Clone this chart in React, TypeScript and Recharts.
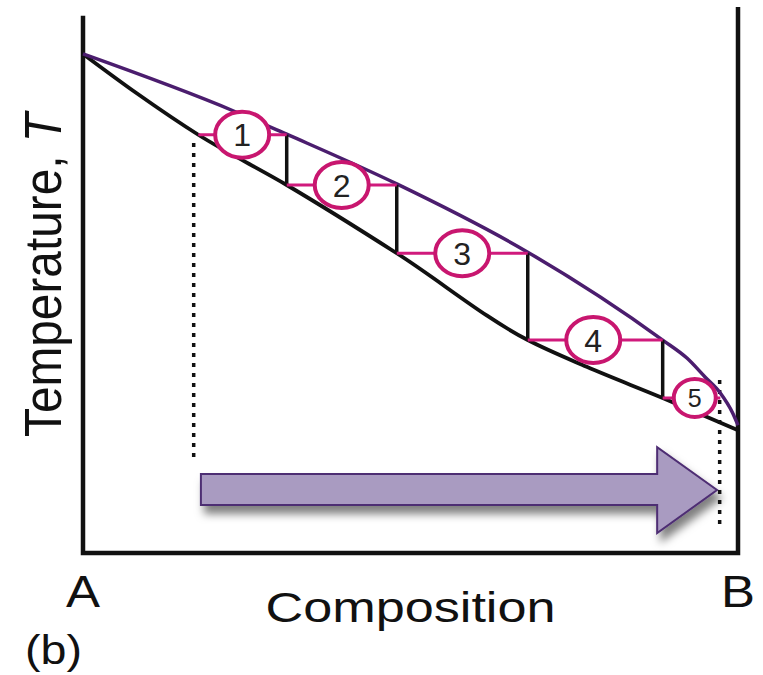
import { ComposedChart, Line, Scatter, XAxis, YAxis, ReferenceArea } from 'recharts';

// composition of B (0 = pure A, 1 = pure B), temperature in arbitrary units
const vaporX = [0, 0.229, 0.311, 0.479, 0.679, 0.885, 0.922, 0.95, 0.973, 0.992, 1];
const vaporT = [91.4, 81.0, 76.7, 67.6, 55.1, 39.0, 35.7, 32.2, 29.3, 25.6, 23.4];
const liquidX = [0, 0.082, 0.176, 0.311, 0.479, 0.679, 0.769, 0.885, 1];
const liquidT = [91.4, 84.2, 76.6, 67.4, 54.9, 39.0, 34.1, 28.4, 22.5];

// distillation steps (tie lines)
const stepT = [76.6, 67.4, 54.9, 39.0, 28.4];
const stepLiquidX = [0.176, 0.311, 0.479, 0.679, 0.885];
const stepVaporX = [0.311, 0.479, 0.679, 0.885, 0.973];
const stepLabelX = [0.243, 0.395, 0.579, 0.779, 0.934];
const stepLabels = ['1', '2', '3', '4', '5'];

// dotted guides: feed and final product
const guideX = [0.169, 0.972];
const guideTopT = [75.1, 31.7];
const guideBottomT = [16.7, 4.2];

// arrow box
const arrowX = [0.18, 0.968];
const arrowT = [3.66, 19.4];

const endTicks = [0, 1];
const endNames = ['A', 'B'];
const frameTop = [98.4, 100];

const FONT = '"Liberation Sans", Arial, Helvetica, sans-serif';

const vapor = vaporX.map((x, i) => ({ x, T: vaporT[i] }));
const liquid = liquidX.map((x, i) => ({ x, T: liquidT[i] }));
const frame = [
  { x: 0, T: frameTop[0] },
  { x: 0, T: 0 },
  { x: 1, T: 0 },
  { x: 1, T: frameTop[1] },
];
const tieLines = stepT.map((T, i) => [
  { x: stepLiquidX[i], T },
  { x: stepVaporX[i], T },
]);
const risers = stepT.slice(0, -1).map((T, i) => [
  { x: stepVaporX[i], T },
  { x: stepVaporX[i], T: stepT[i + 1] },
]);
const guides = guideX.map((x, i) => [
  { x, T: guideTopT[i] },
  { x, T: guideBottomT[i] },
]);
const steps = stepLabels.map((n, i) => ({ x: stepLabelX[i], T: stepT[i], n }));

const StepBadge = (props: any) => {
  const { cx, cy, payload } = props;
  const small = payload.n === '5';
  return (
    <g>
      <ellipse
        cx={cx}
        cy={cy}
        rx={small ? 21 : 27}
        ry={small ? 19 : 23}
        fill="#fff"
        stroke="#c8166f"
        strokeWidth={4}
      />
      <text
        x={cx}
        y={cy}
        dy="0.36em"
        textAnchor="middle"
        fontFamily={FONT}
        fontSize={small ? 25 : 32}
        fill="#222"
      >
        {payload.n}
      </text>
    </g>
  );
};

const Arrow = (props: any) => {
  const { x, y, width, height } = props;
  const hx = x + width * 0.884;
  const top = y + height * 0.314;
  const bot = y + height * 0.674;
  const d = `M${x},${top} L${hx},${top} L${hx},${y} L${x + width},${y + height / 2} L${hx},${y + height} L${hx},${bot} L${x},${bot} Z`;
  return (
    <g>
      <defs>
        <filter id="arrowShadow" x="-10%" y="-30%" width="130%" height="180%">
          <feDropShadow dx={4} dy={8} stdDeviation={4} floodColor="#000" floodOpacity={0.5} />
        </filter>
      </defs>
      <path d={d} fill="#a99bc1" stroke="#4e2d73" strokeWidth={2} filter="url(#arrowShadow)" />
    </g>
  );
};

const EndTick = (props: any) => {
  const { x, payload } = props;
  return (
    <text x={x} y={607} textAnchor="middle" fontFamily={FONT} fontSize={44} fill="#111" textLength={34} lengthAdjust="spacingAndGlyphs">
      {endNames[endTicks.indexOf(payload.value)]}
    </text>
  );
};

const XLabel = (props: any) => {
  const { viewBox } = props;
  const cx = viewBox.x + viewBox.width / 2;
  return (
    <g>
      <text x={cx} y={622} textAnchor="middle" fontFamily={FONT} fontSize={43} fill="#111" textLength={290} lengthAdjust="spacingAndGlyphs">
        Composition
      </text>
      <text x={25} y={664} fontFamily={FONT} fontSize={41} fill="#111" textLength={57} lengthAdjust="spacingAndGlyphs">
        (b)
      </text>
    </g>
  );
};

const YLabel = () => (
  <text transform="translate(61,275) rotate(-90)" textAnchor="middle" fontFamily={FONT} fontSize={51} fill="#111" textLength={324} lengthAdjust="spacingAndGlyphs">
    Temperature, <tspan fontStyle="italic">T</tspan>
  </text>
);

export default function App() {
  return (
    <div style={{ position: 'absolute', left: 0, top: 0, width: 763, height: 675, background: '#fff' }}>
      <ComposedChart width={763} height={675} margin={{ top: 7, right: 25, bottom: 0, left: 0 }}>
        <XAxis
          type="number"
          dataKey="x"
          domain={[0, 1]}
          ticks={endTicks}
          interval={0}
          axisLine={false}
          tickLine={false}
          height={122}
          tick={<EndTick />}
          label={{ content: <XLabel /> }}
        />
        <YAxis type="number" dataKey="T" domain={[0, 100]} axisLine={false} tickLine={false} tick={false} width={83} label={{ content: <YLabel /> }} />
        <ReferenceArea x1={arrowX[0]} x2={arrowX[1]} y1={arrowT[0]} y2={arrowT[1]} shape={<Arrow />} ifOverflow="visible" />
        <Line data={frame} dataKey="T" type="linear" stroke="#111" strokeWidth={4.5} dot={false} isAnimationActive={false} strokeLinejoin="miter" />
        {guides.map((g, i) => (
          <Line key={'g' + i} data={g} dataKey="T" type="linear" stroke="#111" strokeWidth={3.5} strokeDasharray="4 6" dot={false} isAnimationActive={false} />
        ))}
        <Line data={liquid} dataKey="T" type="monotone" stroke="#111" strokeWidth={3.8} dot={false} isAnimationActive={false} />
        <Line data={vapor} dataKey="T" type="monotone" stroke="#4b1d6e" strokeWidth={3.5} dot={false} isAnimationActive={false} />
        {risers.map((r, i) => (
          <Line key={'r' + i} data={r} dataKey="T" type="linear" stroke="#111" strokeWidth={3.5} dot={false} isAnimationActive={false} />
        ))}
        {tieLines.map((t, i) => (
          <Line key={'t' + i} data={t} dataKey="T" type="linear" stroke="#d01a7c" strokeWidth={3} dot={false} isAnimationActive={false} />
        ))}
        <Scatter data={steps} dataKey="T" shape={<StepBadge />} isAnimationActive={false} />
      </ComposedChart>
    </div>
  );
}
